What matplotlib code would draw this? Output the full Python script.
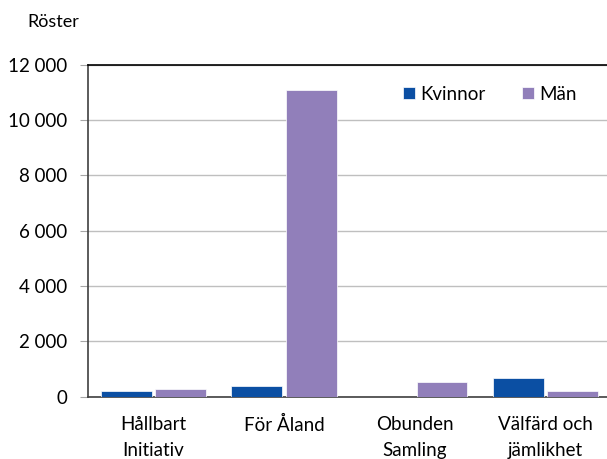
import matplotlib.pyplot as plt
import numpy as np

categories = ["Hållbart\nInitiativ", "För Åland", "Obunden\nSamling", "Välfärd och\njämlikhet"]
kvinnor = [200, 390, 0, 690]
man = [290, 11080, 520, 210]
yticks = [0, 2000, 4000, 6000, 8000, 10000, 12000]
ytick_labels = ["0", "2 000", "4 000", "6 000", "8 000", "10 000", "12 000"]

plt.rcParams["font.family"] = ["Lato", "DejaVu Sans"]

fig = plt.figure(figsize=(6.07, 4.59), dpi=100)
ax = fig.add_axes([88 / 607, 1 - 396.7 / 459, (610.7 - 88) / 607, (396.7 - 64.5) / 459])

x = np.arange(len(categories))
w = 0.39
ax.bar(x - 0.209, kvinnor, w, color="#0b4fa3", edgecolor="white", linewidth=0.5, label="Kvinnor", zorder=3)
ax.bar(x + 0.209, man, w, color="#917fba", edgecolor="white", linewidth=0.5, label="Män", zorder=3)

ax.set_xlim(-0.5, 3.5)
ax.set_ylim(0, 12000)
ax.set_yticks(yticks)
ax.set_yticklabels(ytick_labels, fontsize=13.5)
ax.set_xticks(x)
ax.set_xticklabels(categories, fontsize=13.5, linespacing=1.6)
ax.tick_params(axis="x", length=0, pad=14)
ax.tick_params(axis="y", length=6, color="#a6a6a6", pad=9)

ax.grid(axis="y", color="#bfbfbf", linewidth=1, zorder=0)
for s in ["left", "bottom"]:
    ax.spines[s].set_color("#404040")
    ax.spines[s].set_linewidth(1.2)
ax.spines["top"].set_color("black")
ax.spines["top"].set_linewidth(1.2)
ax.spines["right"].set_visible(False)

ax.legend(loc="center left", bbox_to_anchor=((403 - 88) / 522.7, (396.7 - 94) / 332.2),
          ncol=2, frameon=False, borderpad=0, borderaxespad=0,
          fontsize=13.5, handlelength=0.64, handleheight=0.64, handletextpad=0.3,
          columnspacing=1.9)

fig.text(27 / 607, 1 - 22 / 459, "Röster", fontsize=13, va="center", ha="left")

fig.savefig("out.png", dpi=100)
